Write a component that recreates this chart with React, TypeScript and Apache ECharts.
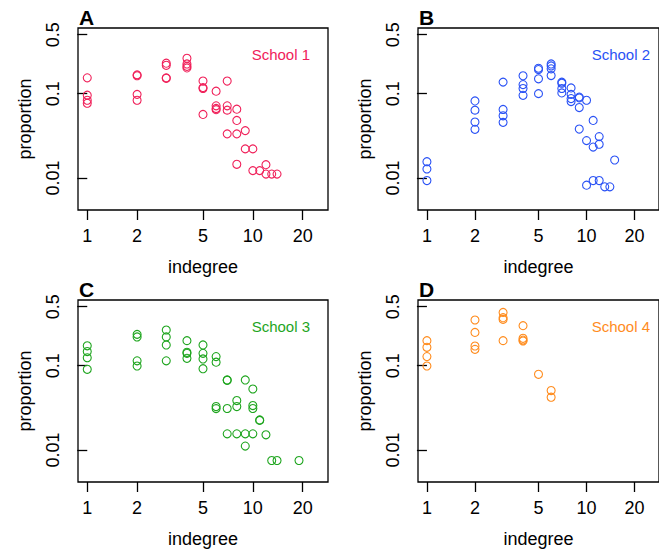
import React, { useEffect, useRef } from "react";
import * as echarts from "echarts";

const schoolNames = ["School 1", "School 2", "School 3", "School 4"];
const panelLetters = ["A", "B", "C", "D"];
const schoolColors = ["#F0215A", "#2A52F5", "#1EA51E", "#FF8C1E"];

const xTickLabels = [1, 2, 5, 10, 20];
const yTickLabels = [0.5, 0.1, 0.01];
const xLimits = [1, 25];
const yLimits = [0.005, 0.5];

const school1Indegree = [1, 1, 1, 1, 2, 2, 2, 2, 3, 3, 3, 3, 4, 4, 4, 4, 5, 5, 5, 5, 6, 6, 6, 6, 7, 7, 7, 7, 8, 8, 8, 8, 9, 9, 10, 10, 11, 12, 12, 13, 14];
const school1Proportion = [0.154, 0.096, 0.0835, 0.077, 0.167, 0.163, 0.098, 0.0835, 0.23, 0.217, 0.154, 0.152, 0.263, 0.225, 0.211, 0.202, 0.141, 0.118, 0.115, 0.0567, 0.107, 0.0716, 0.0667, 0.0645, 0.141, 0.0716, 0.0637, 0.0333, 0.0654, 0.0481, 0.0333, 0.0145, 0.0364, 0.0221, 0.0221, 0.0122, 0.0122, 0.01436, 0.0111, 0.0111, 0.0111];

const school2Indegree = [1, 1, 1, 2, 2, 2, 2, 3, 3, 3, 3, 4, 4, 4, 4, 5, 5, 5, 5, 6, 6, 6, 6, 7, 7, 7, 7, 8, 8, 8, 8, 9, 9, 9, 9, 10, 10, 10, 11, 11, 11, 12, 12, 12, 13, 14, 15];
const school2Proportion = [0.01557, 0.01277, 0.0093, 0.082, 0.0637, 0.046, 0.0377, 0.137, 0.0649, 0.0546, 0.0456, 0.163, 0.128, 0.115, 0.0955, 0.2, 0.193, 0.15, 0.1, 0.225, 0.213, 0.197, 0.164, 0.137, 0.133, 0.115, 0.102, 0.117, 0.098, 0.0873, 0.0805, 0.091, 0.089, 0.0684, 0.038, 0.0835, 0.0277, 0.0082, 0.0481, 0.0232, 0.0093, 0.0309, 0.0251, 0.0093, 0.00783, 0.00783, 0.0163];

const school3Indegree = [1, 1, 1, 1, 2, 2, 2, 2, 3, 3, 3, 3, 4, 4, 4, 4, 5, 5, 5, 5, 6, 6, 6, 6, 7, 7, 7, 7, 8, 8, 8, 9, 9, 9, 10, 10, 10, 10, 11, 11, 12, 13, 14, 19];
const school3Proportion = [0.172, 0.147, 0.124, 0.0905, 0.235, 0.219, 0.114, 0.099, 0.265, 0.219, 0.176, 0.114, 0.198, 0.144, 0.14, 0.122, 0.176, 0.14, 0.12, 0.092, 0.128, 0.11, 0.0327, 0.0309, 0.0676, 0.067, 0.031, 0.0155, 0.0385, 0.0327, 0.0155, 0.0676, 0.0155, 0.0111, 0.0528, 0.0336, 0.031, 0.0155, 0.0227, 0.0224, 0.0151, 0.00748, 0.00748, 0.00748];

const school4Indegree = [1, 1, 1, 1, 2, 2, 2, 2, 3, 3, 3, 3, 4, 4, 4, 4, 5, 6, 6];
const school4Proportion = [0.198, 0.165, 0.128, 0.099, 0.348, 0.248, 0.171, 0.156, 0.428, 0.371, 0.354, 0.198, 0.298, 0.211, 0.201, 0.196, 0.0789, 0.0506, 0.0422];

const indegrees = [school1Indegree, school2Indegree, school3Indegree, school4Indegree];
const proportions = [school1Proportion, school2Proportion, school3Proportion, school4Proportion];

const FONT = "'Liberation Sans', Arial, Helvetica, sans-serif";

const lg = (v: number) => Math.log10(v);
const pad = (lo: number, hi: number): [number, number] => {
  const a = lg(lo), b = lg(hi), d = (b - a) * 0.04;
  return [a - d, b + d];
};
const fmt = (v: number) => String(Math.round(Math.pow(10, v) * 1000) / 1000);

export default function App() {
  const ref = useRef<HTMLDivElement>(null);
  useEffect(() => {
    if (!ref.current) return;
    const chart = echarts.init(ref.current, null, { renderer: "svg" });
    const boxes = [
      { left: 78, top: 28 },
      { left: 418, top: 28 },
      { left: 78, top: 300 },
      { left: 418, top: 300 },
    ];
    const W = 250, H = 182;
    const [xmin, xmax] = pad(xLimits[0], xLimits[1]);
    const [ymin, ymax] = pad(yLimits[0], yLimits[1]);
    const xTicks = xTickLabels.map(lg);
    const yTicks = yTickLabels.map(lg);
    const axisText = { color: "#000", fontSize: 18, fontFamily: FONT };

    const grids = boxes.map((b) => ({
      left: b.left, top: b.top, width: W, height: H,
      show: true, borderColor: "#000", borderWidth: 1.3, backgroundColor: "transparent",
    }));
    const xAxes = boxes.map((_, i) => ({
      type: "value", gridIndex: i, min: xmin, max: xmax,
      name: "indegree", nameLocation: "middle", nameGap: 48,
      nameTextStyle: axisText,
      axisLine: { show: false },
      splitLine: { show: false },
      axisTick: { show: true, length: 10, customValues: xTicks, lineStyle: { color: "#000", width: 1.3 } },
      axisLabel: { show: true, customValues: xTicks, formatter: fmt, margin: 17, ...axisText },
    }));
    const yAxes = boxes.map((_, i) => ({
      type: "value", gridIndex: i, min: ymin, max: ymax,
      name: "proportion", nameLocation: "middle", nameGap: 44, nameRotate: 90,
      nameTextStyle: axisText,
      axisLine: { show: false },
      splitLine: { show: false },
      axisTick: { show: true, length: 10, customValues: yTicks, lineStyle: { color: "#000", width: 1.3 } },
      axisLabel: { show: true, customValues: yTicks, formatter: fmt, rotate: 90, margin: 16, ...axisText },
    }));
    const series = boxes.map((_, i) => ({
      type: "scatter", xAxisIndex: i, yAxisIndex: i,
      symbol: "circle", symbolSize: 8,
      itemStyle: { color: "rgba(0,0,0,0)", borderColor: schoolColors[i], borderWidth: 1.1, opacity: 1 },
      data: indegrees[i].map((x, k) => [lg(x), lg(proportions[i][k])]),
    }));
    const graphics: any[] = [];
    boxes.forEach((b, i) => {
      graphics.push({
        type: "text", x: b.left + 1, y: b.top - 11,
        style: { text: panelLetters[i], font: `bold 21px ${FONT}`, fill: "#000", textAlign: "left", textVerticalAlign: "middle" },
      });
      graphics.push({
        type: "text", x: b.left + W - 18, y: b.top + 26,
        style: { text: schoolNames[i], font: `15px ${FONT}`, fill: schoolColors[i], textAlign: "right", textVerticalAlign: "middle" },
      });
    });
    chart.setOption({
      animation: false,
      backgroundColor: "#fff",
      grid: grids,
      xAxis: xAxes,
      yAxis: yAxes,
      series,
      graphic: graphics,
    } as any);
    return () => chart.dispose();
  }, []);
  return <div ref={ref} style={{ position: "fixed", left: 0, top: 0, width: 659, height: 554 }} />;
}
